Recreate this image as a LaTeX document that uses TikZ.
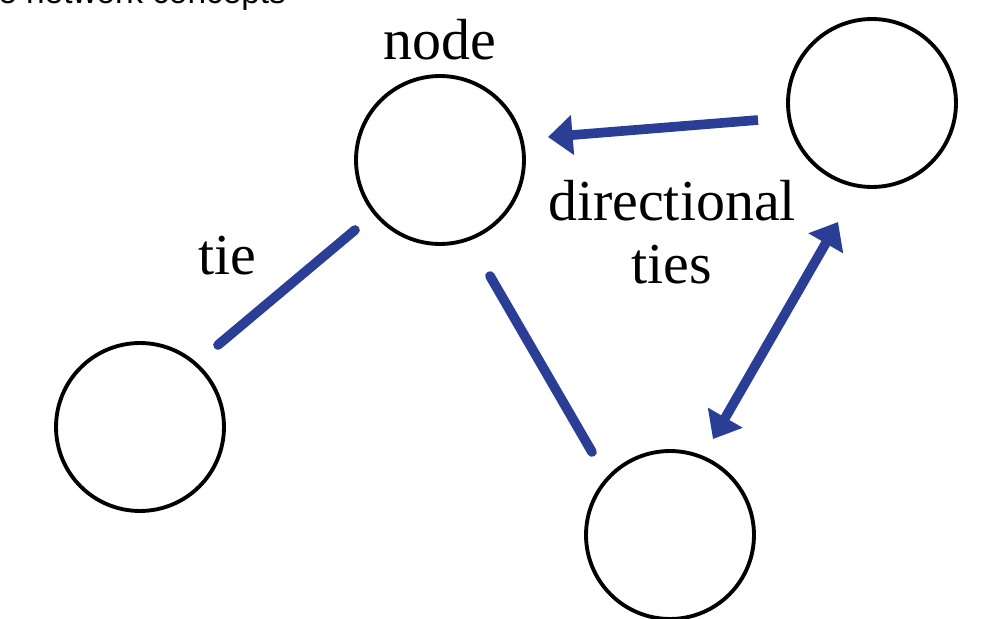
\documentclass[tikz,border=0pt]{standalone}
\usepackage{fontspec}
\newfontfamily\hdr{Liberation Sans}
\newfontfamily\lblf{Liberation Serif}
\usetikzlibrary{arrows.meta}
\definecolor{tieblue}{RGB}{42,62,150}
\begin{document}
\begin{tikzpicture}[x=0.02cm,y=-0.02cm,
  vert/.style={circle,draw=black,line width=2.2pt,minimum size=3.36cm,inner sep=0},
  tieline/.style={draw=tieblue,line width=5.5pt,line cap=round},
  arr/.style={tieline,line cap=butt,-{Triangle[length=14pt,width=22pt]}},
  darr/.style={tieline,line cap=butt,{Triangle[length=14pt,width=22pt]}-{Triangle[length=14pt,width=22pt]}},
  lbl/.style={font=\lblf\fontsize{33}{36}\selectfont,inner sep=0}]
\clip (0,0) rectangle (988,619);
\fill[white] (0,0) rectangle (988,619);
\node[anchor=base west,inner sep=0,font=\hdr\fontsize{19}{22}\selectfont] (hd) at (-2,3) {e network concepts};
\node[vert] (top) at (440,160) {};
\node[vert] (right) at (872,103) {};
\node[vert] (left) at (140,427) {};
\node[vert] (bot) at (670,535) {};
\coordinate (t1) at (355,230); \coordinate (t2) at (218,345);
\draw[tieline] (t1) -- (t2);
\coordinate (u1) at (490,276); \coordinate (u2) at (592,452);
\draw[tieline] (u1) -- (u2);
\coordinate (a1) at (758,120); \coordinate (a2) at (548,137);
\draw[arr] (a1) -- (a2);
\coordinate (d1) at (838,222); \coordinate (d2) at (713,439);
\draw[darr] (d1) -- (d2);
\node[lbl] (nl) at (440,40) {node};
\node[lbl] (tl) at (227,256) {tie};
\node[lbl] (dl) at (672,201) {directional};
\node[lbl] (dl2) at (672,265) {ties};
\end{tikzpicture}
\end{document}
